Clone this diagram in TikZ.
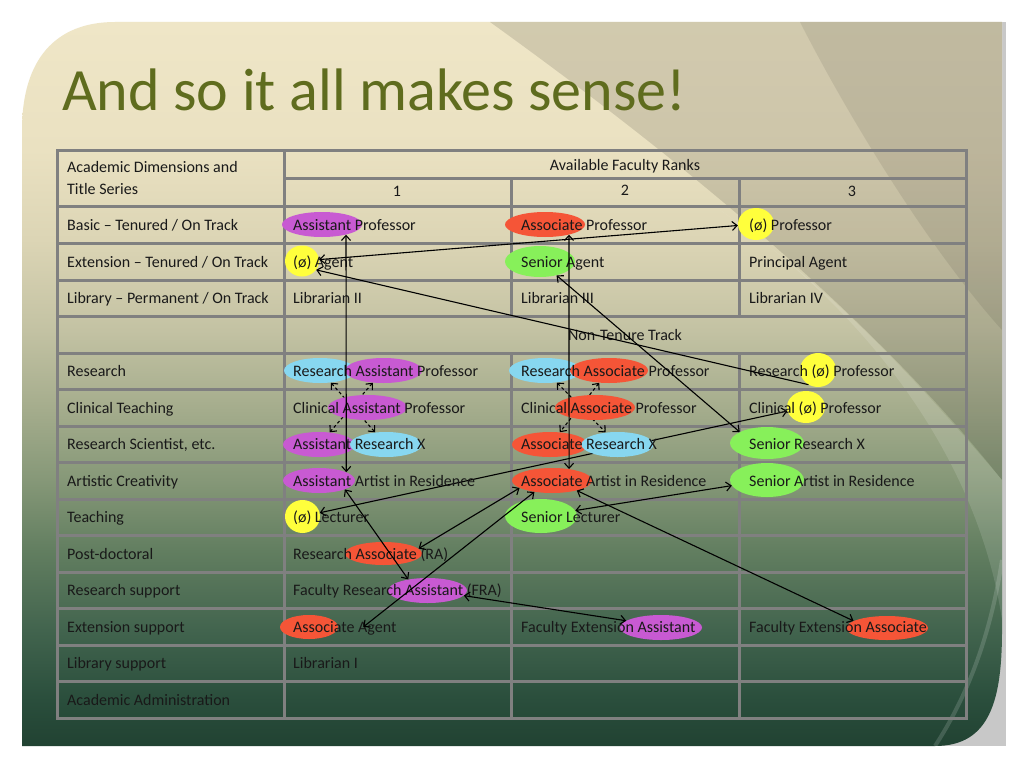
\documentclass[tikz,border=0pt]{standalone}
\usepackage{fontspec}
\setmainfont{Carlito}
\usetikzlibrary{shapes.geometric,arrows.meta}

\definecolor{titlegreen}{RGB}{95,108,30}
\definecolor{gridgray}{RGB}{128,128,128}
\definecolor{stripgray}{RGB}{200,200,200}
\definecolor{hlpurple}{RGB}{200,90,210}
\definecolor{hlred}{RGB}{245,85,55}
\definecolor{hlyellow}{RGB}{255,255,60}
\definecolor{hlgreen}{RGB}{135,240,90}
\definecolor{hlcyan}{RGB}{135,215,240}
\definecolor{sg0}{RGB}{33,66,50}
\definecolor{sg1}{RGB}{42,78,60}
\definecolor{sg2}{RGB}{66,100,78}
\definecolor{sg3}{RGB}{98,126,96}
\definecolor{sg4}{RGB}{134,152,120}
\definecolor{sg5}{RGB}{164,172,140}
\definecolor{sg6}{RGB}{195,194,163}
\definecolor{sg7}{RGB}{220,213,181}
\definecolor{sg8}{RGB}{234,225,193}
\definecolor{sg9}{RGB}{239,230,199}

\pgfdeclareverticalshading{slideshade}{100bp}{color(0bp)=(sg0); color(25bp)=(sg0);
  color(28.2bp)=(sg1); color(33bp)=(sg2); color(38.5bp)=(sg3); color(43.4bp)=(sg4);
  color(48.2bp)=(sg5); color(53.7bp)=(sg6); color(60bp)=(sg7); color(66.2bp)=(sg8);
  color(75bp)=(sg9); color(100bp)=(sg9)}

\pgfdeclarelayer{back}
\pgfdeclarelayer{under}
\pgfsetlayers{back,under,main}

\tikzset{
  grid/.style={draw=gridgray,line width=3pt},
  hl/.style={ellipse,inner sep=0pt,minimum height=25pt},
  cell/.style={anchor=west,inner sep=0pt,text height=14pt,text depth=3pt,
    font=\fontsize{16}{18}\selectfont,text=black!90},
  head/.style={anchor=base,inner sep=0pt,font=\fontsize{16}{18}\selectfont,text=black!90},
  link/.style={line width=1.1pt,{Straight Barb[length=5pt,width=9pt]}-{Straight Barb[length=5pt,width=9pt]}},
  linkone/.style={line width=1.1pt,-{Straight Barb[length=5pt,width=9pt]}},
  dlink/.style={link,dash pattern=on 3pt off 2.5pt}
}

\begin{document}
\begin{tikzpicture}[x=1pt,y=-1pt]
\useasboundingbox (0,0) rectangle (1024,768);

\begin{pgfonlayer}{back}
% slide
\fill[white] (0,0) rectangle (1024,768);
\fill[stripgray] (930,22) rectangle (1006,746);
\shade[shading=slideshade] (22,130) .. controls (22,60) and (55,22) .. (115,22) -- (1002,22)
  -- (1002,630) .. controls (1002,700) and (990,746) .. (935,746) -- (22,746) -- cycle;
\begin{scope}
\clip (22,130) .. controls (22,60) and (55,22) .. (115,22) -- (1002,22)
  -- (1002,630) .. controls (1002,700) and (990,746) .. (935,746) -- (22,746) -- cycle;
\fill[black,opacity=.12] (490,22) .. controls (640,130) and (860,300) .. (1002,480) -- (1002,22) -- cycle;
\fill[black,opacity=.08] (800,22) .. controls (850,120) and (930,250) .. (1002,330) -- (1002,22) -- cycle;
\fill[white,opacity=.12] (720,210) .. controls (880,320) and (980,470) .. (1002,620) -- (1002,480)
  .. controls (900,360) and (820,280) .. (720,210) -- cycle;
\draw[white,opacity=.15,line width=4pt] (1002,560) .. controls (990,640) and (965,700) .. (935,746);
\end{scope}

% table
\draw[grid] (57,150) rectangle (966,718);
\draw[grid] (284,150) -- (284,718);
\draw[grid] (284,178) -- (966,178);
\draw[grid] (511,178) -- (511,316);
\draw[grid] (511,353) -- (511,718);
\draw[grid] (739,178) -- (739,316);
\draw[grid] (739,353) -- (739,718);
\foreach \y in {206,243,280,316,353,389,426,462,499,535,572,608,645,681}
  \draw[grid] (57,\y) -- (966,\y);
\end{pgfonlayer}

\node[anchor=base west,inner sep=0pt,text=titlegreen,font=\fontsize{60}{64}\selectfont] (title) at (62,110) {And so it all makes sense!};

% highlights
\node[hl,fill=hlpurple,minimum width=80pt] (hAsstProf) at (322,224.5) {};
\node[hl,fill=hlred,minimum width=80pt] (hAssocProf) at (545,224.5) {};
\node[hl,fill=hlyellow,minimum width=36pt,minimum height=32pt] (hProf) at (756,224) {};
\node[hl,fill=hlyellow,minimum width=34pt,minimum height=31pt] (hAgent) at (302,261) {};
\node[hl,fill=hlgreen,minimum width=70pt,minimum height=31pt] (hSenAgent) at (540,261.5) {};
\node[hl,fill=hlcyan,minimum width=72pt] (hResA) at (320,370.5) {};
\node[hl,fill=hlpurple,minimum width=77pt] (hAsstA) at (383.5,370.5) {};
\node[hl,fill=hlcyan,minimum width=72pt] (hResB) at (545,370.5) {};
\node[hl,fill=hlred,minimum width=78pt] (hAssocA) at (609,370.5) {};
\node[hl,fill=hlyellow,minimum width=36pt,minimum height=34pt] (hResProf) at (818,370) {};
\node[hl,fill=hlpurple,minimum width=79pt] (hClinA) at (367.5,407.5) {};
\node[hl,fill=hlred,minimum width=80pt] (hClinB) at (595,407.5) {};
\node[hl,fill=hlyellow,minimum width=38pt,minimum height=32pt] (hClinProf) at (806,407) {};
\node[hl,fill=hlpurple,minimum width=72pt] (hAsstX) at (319,444.5) {};
\node[hl,fill=hlcyan,minimum width=72pt] (hResXA) at (386,444.5) {};
\node[hl,fill=hlred,minimum width=76pt] (hAssocX) at (550,444.5) {};
\node[hl,fill=hlcyan,minimum width=72pt] (hResXB) at (617.5,444.5) {};
\node[hl,fill=hlgreen,minimum width=74pt,minimum height=32pt] (hSenX) at (767,443) {};
\node[hl,fill=hlpurple,minimum width=72pt] (hAsstArt) at (319,480.5) {};
\node[hl,fill=hlred,minimum width=80pt] (hAssocArt) at (552,480.5) {};
\node[hl,fill=hlgreen,minimum width=74pt,minimum height=34pt] (hSenArt) at (767,480) {};
\node[hl,fill=hlyellow,minimum width=35pt,minimum height=33pt] (hLect) at (302.5,516.5) {};
\node[hl,fill=hlgreen,minimum width=72pt,minimum height=34pt] (hSenLect) at (541,516) {};
\node[hl,fill=hlred,minimum width=77pt,minimum height=23pt] (hRA) at (383.5,553.5) {};
\node[hl,fill=hlpurple,minimum width=79pt] (hFRA) at (427.5,590.5) {};
\node[hl,fill=hlred,minimum width=58pt,minimum height=24pt] (hAssocAg) at (309,627) {};
\node[hl,fill=hlpurple,minimum width=82pt] (hFEA) at (661,627.5) {};
\node[hl,fill=hlred,minimum width=82pt,minimum height=24pt] (hFEAssoc) at (887,628) {};

% header
\node[head,anchor=base west] (hdrA) at (67,172.3) {Academic Dimensions and};
\node[head,anchor=base west] (hdrB) at (67,194) {Title Series};
\node[head] (hdrRanks) at (625,170) {Available Faculty Ranks};
\node[head] (rank1) at (397,196) {1};
\node[head] (rank2) at (625,195) {2};
\node[head] (rank3) at (852,196) {3};

% first column
\node[cell] (lBasic) at (67,224.5) {Basic – Tenured / On Track};
\node[cell] (lExt) at (67,261.5) {Extension – Tenured / On Track};
\node[cell] (lLib) at (67,298) {Library – Permanent / On Track};
\node[head] (lNTT) at (625,340) {Non-Tenure Track};
\node[cell] (lRes) at (67,371) {Research};
\node[cell] (lClin) at (67,407.5) {Clinical Teaching};
\node[cell] (lSci) at (67,444) {Research Scientist, etc.};
\node[cell] (lArt) at (67,480.5) {Artistic Creativity};
\node[cell] (lTeach) at (67,517) {Teaching};
\node[cell] (lPost) at (67,553.5) {Post-doctoral};
\node[cell] (lRSup) at (67,590) {Research support};
\node[cell] (lESup) at (67,626.5) {Extension support};
\node[cell] (lLSup) at (67,663) {Library support};
\node[cell] (lAdmin) at (67,699.5) {Academic Administration};

% rank 1
\node[cell] (r1Basic) at (293,224.5) {Assistant Professor};
\node[cell] (r1Ext) at (293,261.5) {(ø) Agent};
\node[cell] (r1Lib) at (293,298) {Librarian II};
\node[cell] (r1Res) at (293,371) {Research Assistant Professor};
\node[cell] (r1Clin) at (293,407.5) {Clinical Assistant Professor};
\node[cell] (r1Sci) at (293,444) {Assistant Research X};
\node[cell] (r1Art) at (293,480.5) {Assistant Artist in Residence};
\node[cell] (r1Teach) at (293,517) {(ø) Lecturer};
\node[cell] (r1Post) at (293,553.5) {Research Associate (RA)};
\node[cell] (r1RSup) at (293,590) {Faculty Research Assistant (FRA)};
\node[cell] (r1ESup) at (293,626.5) {Associate Agent};
\node[cell] (r1LSup) at (293,663) {Librarian I};

% rank 2
\node[cell] (r2Basic) at (521,224.5) {Associate Professor};
\node[cell] (r2Ext) at (521,261.5) {Senior Agent};
\node[cell] (r2Lib) at (521,298) {Librarian III};
\node[cell] (r2Res) at (521,371) {Research Associate Professor};
\node[cell] (r2Clin) at (521,407.5) {Clinical Associate Professor};
\node[cell] (r2Sci) at (521,444) {Associate Research X};
\node[cell] (r2Art) at (521,480.5) {Associate Artist in Residence};
\node[cell] (r2Teach) at (521,517) {Senior Lecturer};
\node[cell] (r2ESup) at (521,626.5) {Faculty Extension Assistant};

% rank 3
\node[cell] (r3Basic) at (749,224.5) {(ø) Professor};
\node[cell] (r3Ext) at (749,261.5) {Principal Agent};
\node[cell] (r3Lib) at (749,298) {Librarian IV};
\node[cell] (r3Res) at (749,371) {Research (ø) Professor};
\node[cell] (r3Clin) at (749,407.5) {Clinical (ø) Professor};
\node[cell] (r3Sci) at (749,444) {Senior Research X};
\node[cell] (r3Art) at (749,480.5) {Senior Artist in Residence};
\node[cell] (r3ESup) at (749,626.5) {Faculty Extension Associate};

% links behind the highlights
\begin{pgfonlayer}{under}
\draw[dlink] (hResA) -- (hResXA);
\draw[dlink] (hAsstA) -- (hAsstX);
\draw[dlink] (hResB) -- (hResXB);
\draw[dlink] (hAssocA) -- (hAssocX);
\draw[link] (hLect) -- (hClinProf);
\end{pgfonlayer}

% links
\draw[link] (hAsstProf.-23) -- (hAsstArt.17);
\draw[link] (hAssocProf.-23) -- (hAssocArt.34);
\draw[link] (hAgent) -- (hProf);
\draw[linkone] (hResProf.-123) -- (hAgent.-32);
\draw[link] (hSenAgent.-40) -- (hSenX.158);
\draw[link] (hAssocArt.193) -- (hRA.8);
\draw[link] (hAssocArt.-147) -- ([xshift=25pt]hAssocAg.east);
\draw[link] (hAsstArt.-19) -- (hFRA.150);
\draw[link] (hFRA.-8) -- (hFEA.169);
\draw[link] (hAssocArt.-22) -- (hFEAssoc.168);
\draw[link] (hSenLect) -- (hSenArt);
\end{tikzpicture}
\end{document}
